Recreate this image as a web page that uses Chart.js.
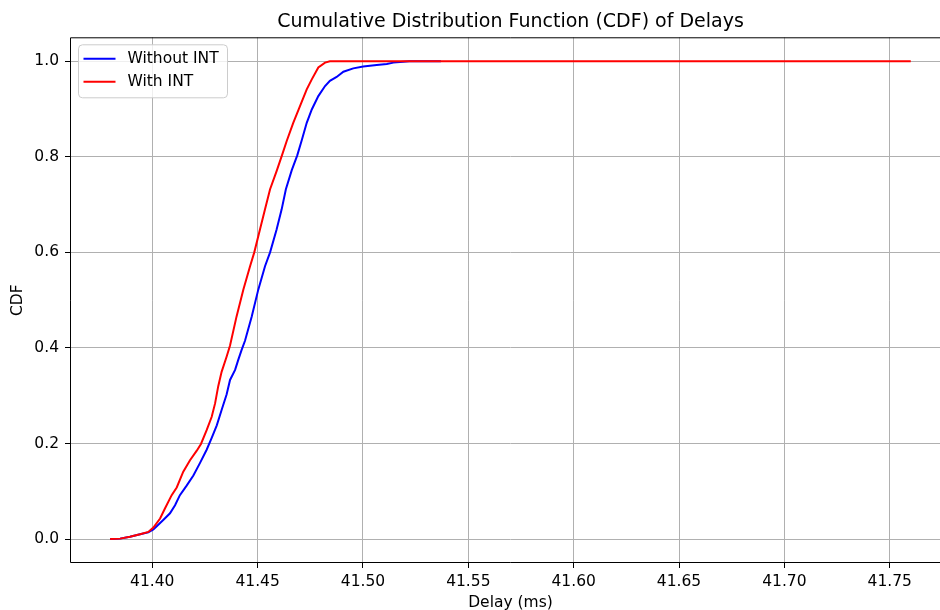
<!DOCTYPE html>
<html><head><meta charset="utf-8">
<script src="https://cdn.jsdelivr.net/npm/chart.js@4.4.1/dist/chart.umd.min.js"></script>
<style>
html,body{margin:0;padding:0;background:#fff;overflow:hidden}
#wrap{width:940px;height:610px;overflow:hidden;position:relative}
canvas{display:block}
</style></head>
<body><div id="wrap"><canvas id="c" width="951" height="610"></canvas></div>
<script>
const chartTitle = 'Cumulative Distribution Function (CDF) of Delays';
const xAxisTitle = 'Delay (ms)';
const yAxisTitle = 'CDF';
const seriesNames = ['Without INT', 'With INT'];
const seriesColors = ['#0000ff', '#ff0000'];

// Without INT (blue)
const withoutDelay = [41.380, 41.3847, 41.3894, 41.3942, 41.3981, 41.4005, 41.4021, 41.4052, 41.4084, 41.4108, 41.4131, 41.4163, 41.4195, 41.4226, 41.4258, 41.4282, 41.4306, 41.4329, 41.4353, 41.4369, 41.4393, 41.4408, 41.4424, 41.4440, 41.4472, 41.4503, 41.4535, 41.4559, 41.4590, 41.4614, 41.4634, 41.4662, 41.4688, 41.4709, 41.4733, 41.4757, 41.4788, 41.4820, 41.4843, 41.4875, 41.4907, 41.4954, 41.5001, 41.5065, 41.5113, 41.5144, 41.5191, 41.5220, 41.5370];
const withoutCdf   = [0.000, 0.001, 0.005, 0.010, 0.014, 0.020, 0.027, 0.040, 0.054, 0.071, 0.092, 0.112, 0.133, 0.159, 0.187, 0.212, 0.238, 0.270, 0.303, 0.333, 0.354, 0.375, 0.396, 0.415, 0.466, 0.522, 0.571, 0.600, 0.648, 0.690, 0.732, 0.772, 0.803, 0.834, 0.871, 0.899, 0.927, 0.948, 0.959, 0.967, 0.978, 0.985, 0.989, 0.992, 0.994, 0.997, 0.999, 1.000, 1.000];

// With INT (red)
const withDelay = [41.380, 41.3847, 41.3894, 41.3942, 41.3981, 41.4005, 41.4037, 41.4060, 41.4092, 41.4116, 41.4147, 41.4179, 41.4211, 41.4231, 41.4258, 41.4282, 41.4298, 41.4313, 41.4329, 41.4353, 41.4369, 41.4400, 41.4432, 41.4464, 41.4484, 41.4511, 41.4535, 41.4559, 41.4590, 41.4617, 41.4638, 41.4669, 41.4701, 41.4733, 41.4757, 41.4788, 41.4820, 41.4843, 41.7600];
const withCdf   = [0.000, 0.001, 0.005, 0.010, 0.015, 0.024, 0.043, 0.064, 0.092, 0.108, 0.141, 0.165, 0.185, 0.199, 0.228, 0.256, 0.284, 0.320, 0.350, 0.382, 0.405, 0.466, 0.522, 0.571, 0.600, 0.648, 0.690, 0.732, 0.770, 0.805, 0.833, 0.871, 0.906, 0.941, 0.962, 0.987, 0.997, 1.000, 1.000];

const xTickValues = [41.40, 41.45, 41.50, 41.55, 41.60, 41.65, 41.70, 41.75];
const yTickValues = [0.0, 0.2, 0.4, 0.6, 0.8, 1.0];
const xRange = [41.36094, 41.77909];
const yRange = [-0.05, 1.05];

const FONT = 'DejaVu Sans';

function toPoints(xs, ys) { return xs.map((x, i) => ({x: x, y: ys[i]})); }

const frameLegendPlugin = {
  id: 'frameLegend',
  afterDatasetsDraw(chart) {
    const ctx = chart.ctx, a = chart.chartArea;
    ctx.save();
    const x0 = a.left + 8.5, y0 = a.top + 7.5, w = 149, h = 53, r = 4;
    ctx.beginPath();
    ctx.moveTo(x0 + r, y0);
    ctx.lineTo(x0 + w - r, y0); ctx.quadraticCurveTo(x0 + w, y0, x0 + w, y0 + r);
    ctx.lineTo(x0 + w, y0 + h - r); ctx.quadraticCurveTo(x0 + w, y0 + h, x0 + w - r, y0 + h);
    ctx.lineTo(x0 + r, y0 + h); ctx.quadraticCurveTo(x0, y0 + h, x0, y0 + h - r);
    ctx.lineTo(x0, y0 + r); ctx.quadraticCurveTo(x0, y0, x0 + r, y0);
    ctx.closePath();
    ctx.fillStyle = 'rgba(255,255,255,0.8)';
    ctx.fill();
    ctx.strokeStyle = '#cccccc';
    ctx.lineWidth = 1;
    ctx.stroke();
    ctx.font = '15.5px "' + FONT + '"';
    ctx.textBaseline = 'middle';
    ctx.textAlign = 'left';
    chart.data.datasets.forEach((ds, i) => {
      const y = y0 + 14 + i * 23;
      ctx.strokeStyle = ds.borderColor;
      ctx.lineWidth = 2;
      ctx.beginPath(); ctx.moveTo(x0 + 5, y); ctx.lineTo(x0 + 37, y); ctx.stroke();
      ctx.fillStyle = '#000';
      ctx.fillText(ds.label, x0 + 49, y);
    });
    ctx.restore();
  },
  afterDraw(chart) {
    const ctx = chart.ctx, a = chart.chartArea;
    ctx.save();
    // keep the strip at the page edge clean (the axes continue past it)
    ctx.fillStyle = '#ffffff';
    ctx.fillRect(936, a.top + 1, 4, a.bottom - a.top - 2);
    // redraw horizontal grid lines through that strip, aligned like Chart.js does
    const ys = chart.scales.y;
    ctx.strokeStyle = '#b0b0b0';
    ctx.lineWidth = 1;
    yTickValues.forEach(v => {
      const py = Math.round(ys.getPixelForValue(v) - 0.5) + 0.5;
      ctx.beginPath(); ctx.moveTo(935, py); ctx.lineTo(941, py); ctx.stroke();
    });
    // axes spines: left, top, bottom (the right one lies beyond the page edge)
    ctx.strokeStyle = '#000';
    ctx.beginPath();
    ctx.moveTo(a.right, a.top + 0.5);
    ctx.lineTo(a.left + 0.5, a.top + 0.5);
    ctx.lineTo(a.left + 0.5, a.bottom - 0.5);
    ctx.lineTo(a.right, a.bottom - 0.5);
    ctx.stroke();
    ctx.restore();
  }
};

new Chart(document.getElementById('c'), {
  type: 'line',
  data: {
    datasets: [
      { label: seriesNames[0], data: toPoints(withoutDelay, withoutCdf), borderColor: seriesColors[0], backgroundColor: seriesColors[0], borderWidth: 2, pointRadius: 0, tension: 0, fill: false, order: 1 },
      { label: seriesNames[1], data: toPoints(withDelay, withCdf), borderColor: seriesColors[1], backgroundColor: seriesColors[1], borderWidth: 2, pointRadius: 0, tension: 0, fill: false, order: 0 }
    ]
  },
  options: {
    responsive: false,
    animation: false,
    events: [],
    layout: { padding: 0 },
    plugins: {
      legend: { display: false },
      tooltip: { enabled: false },
      title: {
        display: true, text: chartTitle, fullSize: false, color: '#000',
        font: { family: FONT, size: 19, weight: 'normal' },
        padding: { top: 10.5, bottom: 4 }
      }
    },
    scales: {
      x: {
        type: 'linear', min: xRange[0], max: xRange[1],
        afterBuildTicks: s => { s.ticks = xTickValues.map(v => ({ value: v })); },
        afterFit: s => { s.height = 47; },
        ticks: { includeBounds: false, autoSkip: false, maxRotation: 0, color: '#000', padding: 5,
          font: { family: FONT, size: 15.5 }, callback: v => Number(v).toFixed(2) },
        grid: { color: '#b0b0b0', lineWidth: 1, tickColor: '#000', tickLength: 5, drawTicks: true },
        border: { display: false },
        title: { display: true, text: xAxisTitle, color: '#000', font: { family: FONT, size: 15.5 }, padding: { top: 0, bottom: -2 } }
      },
      y: {
        type: 'linear', min: yRange[0], max: yRange[1],
        afterBuildTicks: s => { s.ticks = yTickValues.map(v => ({ value: v })); },
        afterFit: s => { s.width = 70; },
        ticks: { includeBounds: false, autoSkip: false, color: '#000', padding: 6,
          font: { family: FONT, size: 15.5 }, callback: v => Number(v).toFixed(1) },
        grid: { color: '#b0b0b0', lineWidth: 1, tickColor: '#000', tickLength: 5, drawTicks: true },
        border: { display: false },
        title: { display: true, text: yAxisTitle, color: '#000', font: { family: FONT, size: 15.5 }, padding: { top: 9, bottom: 0 } }
      }
    }
  },
  plugins: [frameLegendPlugin]
});
</script>
</body></html>
